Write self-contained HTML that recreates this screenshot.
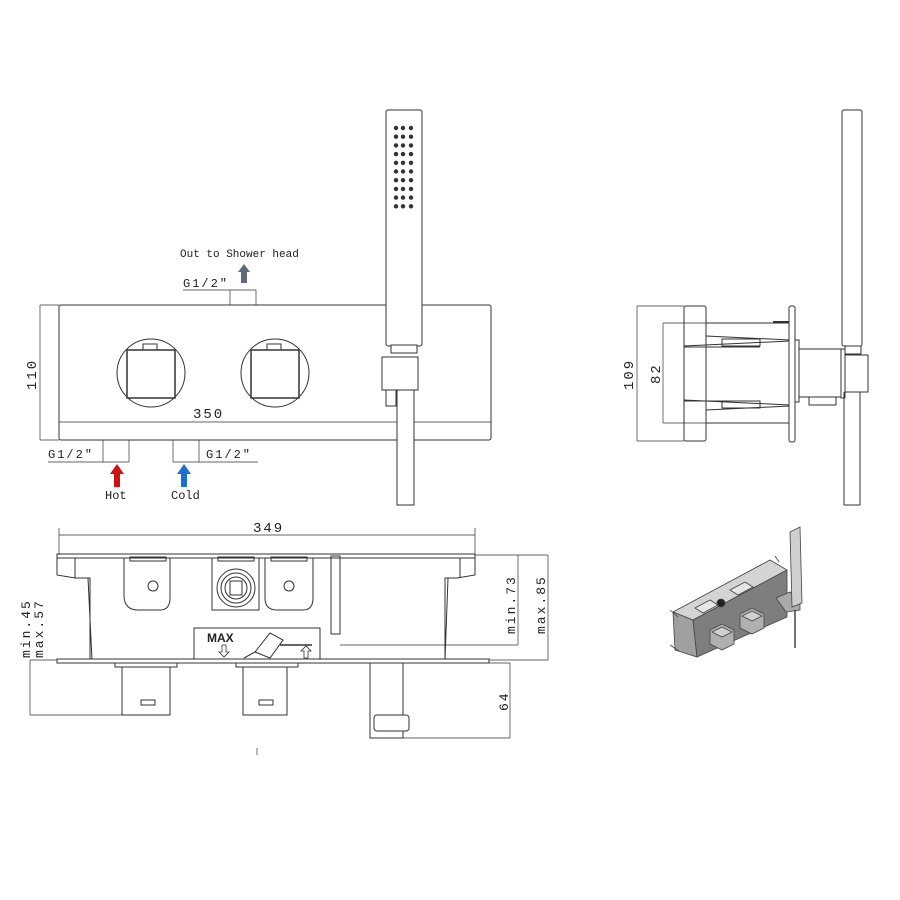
<!DOCTYPE html>
<html><head><meta charset="utf-8"><style>
html,body{margin:0;padding:0;background:#fff;}
svg{display:block;}
text{font-family:"Liberation Mono",monospace;fill:#222;}
</style></head><body>
<svg width="900" height="900" viewBox="0 0 900 900" xmlns="http://www.w3.org/2000/svg">
<g fill="none" stroke="#333" stroke-width="1">
<!-- FRONT VIEW -->
<rect x="59" y="305" width="432" height="135" rx="2"/>
<line x1="40" y1="305" x2="59" y2="305" stroke-width="0.7"/>
<line x1="40" y1="440" x2="59" y2="440" stroke-width="0.7"/>
<line x1="40" y1="305" x2="40" y2="440" stroke-width="0.7"/>
<line x1="59" y1="422" x2="491" y2="422" stroke-width="0.7"/>
<line x1="230" y1="290" x2="230" y2="305" stroke-width="0.7"/>
<line x1="256" y1="290" x2="256" y2="305" stroke-width="0.7"/>
<line x1="183" y1="290" x2="256" y2="290" stroke-width="0.7"/>
<!-- knobs -->
<circle cx="151" cy="373" r="34"/>
<rect x="127" y="350" width="48" height="48" stroke-width="1.5"/>
<rect x="143" y="344" width="14" height="6"/>
<circle cx="275" cy="373" r="34"/>
<rect x="251" y="350" width="48" height="48" stroke-width="1.5"/>
<rect x="267" y="344" width="14" height="6"/>
<!-- inlets -->
<line x1="103" y1="440" x2="103" y2="462" stroke-width="0.7"/>
<line x1="129" y1="440" x2="129" y2="462" stroke-width="0.7"/>
<line x1="48" y1="462" x2="129" y2="462" stroke-width="0.7"/>
<line x1="173" y1="440" x2="173" y2="462" stroke-width="0.7"/>
<line x1="199" y1="440" x2="199" y2="462" stroke-width="0.7"/>
<line x1="173" y1="462" x2="258" y2="462" stroke-width="0.7"/>
<!-- hand shower front -->
<rect x="386" y="110" width="36" height="236" rx="2" fill="#fff"/>
<rect x="391" y="345" width="26" height="8" fill="#fff"/>
<rect x="382" y="357" width="36" height="33" fill="#fff"/>
<rect x="386" y="390" width="10" height="16"/>
<rect x="397" y="390" width="17" height="115" fill="#fff"/>

<!-- SIDE VIEW -->
<line x1="637" y1="306" x2="684" y2="306" stroke-width="0.7"/>
<line x1="637" y1="441" x2="684" y2="441" stroke-width="0.7"/>
<line x1="637" y1="306" x2="637" y2="441" stroke-width="0.7"/>
<line x1="663" y1="323" x2="706" y2="323" stroke-width="0.7"/>
<line x1="663" y1="423" x2="706" y2="423" stroke-width="0.7"/>
<line x1="663" y1="323" x2="663" y2="423" stroke-width="0.7"/>
<rect x="684" y="306" width="22" height="135" rx="2"/>
<line x1="706" y1="323" x2="790" y2="323"/>
<line x1="706" y1="336" x2="790" y2="340"/>
<line x1="684" y1="346" x2="790" y2="341"/>
<line x1="684" y1="347" x2="760" y2="347"/>
<rect x="722" y="339" width="38" height="7"/>
<line x1="706" y1="423" x2="790" y2="423"/>
<line x1="706" y1="410" x2="790" y2="406"/>
<line x1="684" y1="400" x2="790" y2="405"/>
<line x1="684" y1="401" x2="760" y2="401"/>
<rect x="722" y="401" width="38" height="7"/>
<line x1="773" y1="322" x2="790" y2="322" stroke-width="2"/>
<rect x="789" y="306" width="6" height="136" rx="2" fill="#fff"/>
<rect x="795" y="340" width="4" height="62"/>
<rect x="799" y="349" width="42" height="48"/>
<rect x="809" y="397" width="27" height="8"/>
<rect x="841" y="349" width="4" height="49"/>
<rect x="842" y="110" width="20" height="236" rx="2" fill="#fff"/>
<rect x="845" y="346" width="16" height="8"/>
<rect x="845" y="355" width="23" height="37" fill="#fff"/>
<line x1="844" y1="392" x2="844" y2="505"/>
<line x1="860" y1="392" x2="860" y2="505"/>
<line x1="844" y1="505" x2="860" y2="505"/>

<!-- BOTTOM (TOP) VIEW -->
<line x1="59" y1="528" x2="59" y2="555" stroke-width="0.7"/>
<line x1="475" y1="528" x2="475" y2="555" stroke-width="0.7"/>
<line x1="59" y1="535" x2="475" y2="535" stroke-width="0.7"/>
<rect x="57" y="554" width="418" height="4"/>
<path d="M57 556 V575 L75 578 H90 V660"/>
<path d="M75 558 V578"/>
<line x1="88" y1="578" x2="92" y2="660"/>
<path d="M475 556 V575 L457 578 H445 V660"/>
<path d="M460 558 V578"/>
<line x1="448" y1="578" x2="445" y2="660"/>
<path d="M124 558 V595 Q124 610 138 610 H160 Q170 610 170 598 V558"/>
<rect x="130" y="557" width="36" height="4"/>
<circle cx="153" cy="586" r="5"/>
<path d="M212 558 V610 H259 V558"/>
<rect x="218" y="557" width="36" height="4"/>
<circle cx="236" cy="588" r="19"/>
<circle cx="236" cy="588" r="15"/>
<circle cx="236" cy="588" r="11"/>
<rect x="230" y="581" width="12" height="14"/>
<path d="M265 558 V598 Q265 610 277 610 H303 Q313 610 313 598 V558"/>
<rect x="271" y="557" width="36" height="4"/>
<circle cx="289" cy="586" r="5"/>
<rect x="331" y="556" width="9" height="78"/>
<rect x="194" y="628" width="126" height="32"/>
<line x1="280" y1="645" x2="312" y2="645" stroke-width="1.5"/>
<path d="M255 652 L270 633 L283 640 L270 658 Z"/>
<path d="M244 658 L255 652"/>
<rect x="57" y="659" width="432" height="4" fill="#fff"/>
<line x1="340" y1="645" x2="518" y2="645" stroke-width="0.7"/>
<line x1="475" y1="555" x2="548" y2="555" stroke-width="0.7"/>
<line x1="518" y1="555" x2="518" y2="645" stroke-width="0.7"/>
<line x1="548" y1="555" x2="548" y2="660" stroke-width="0.7"/>
<line x1="489" y1="660" x2="548" y2="660" stroke-width="0.7"/>
<line x1="30" y1="660" x2="57" y2="660" stroke-width="0.7"/>
<line x1="30" y1="660" x2="30" y2="715" stroke-width="0.7"/>
<line x1="30" y1="715" x2="122" y2="715" stroke-width="0.7"/>
<rect x="115" y="663" width="62" height="4"/>
<rect x="122" y="667" width="48" height="48"/>
<rect x="141" y="700" width="14" height="5"/>
<rect x="236" y="663" width="62" height="4"/>
<rect x="243" y="667" width="44" height="48"/>
<rect x="259" y="700" width="14" height="5"/>
<rect x="370" y="663" width="33" height="75"/>
<rect x="374" y="715" width="35" height="16" rx="3" fill="#fff"/>
<line x1="403" y1="663" x2="510" y2="663" stroke-width="0.7"/>
<line x1="403" y1="738" x2="510" y2="738" stroke-width="0.7"/>
<line x1="510" y1="663" x2="510" y2="738" stroke-width="0.7"/>
<line x1="257" y1="748" x2="257" y2="755" stroke-width="0.7"/>
</g>
<!-- shower dots -->
<g fill="#333">
<g id="row"><circle cx="396" cy="128" r="2.2"/><circle cx="403" cy="128" r="2.2"/><circle cx="411" cy="128" r="2.2"/></g>
<use href="#row" y="8.7"/><use href="#row" y="17.4"/><use href="#row" y="26.1"/><use href="#row" y="34.8"/><use href="#row" y="43.5"/><use href="#row" y="52.2"/><use href="#row" y="60.9"/><use href="#row" y="69.6"/><use href="#row" y="78.3"/>
</g>
<!-- arrows -->
<path d="M241 283 V272 H238 L244 264 L250 272 H247 V283 Z" fill="#5f6b7a"/>
<path d="M114 487 V474 H110 L117 464 L124 474 H120 V487 Z" fill="#d01010"/>
<path d="M181 487 V474 H177 L184 464 L191 474 H187 V487 Z" fill="#1a6fd0"/>
<!-- texts -->
<text x="180" y="257" font-size="11">Out to Shower head</text>
<text x="183" y="287" font-size="12" letter-spacing="2">G1/2"</text>
<text x="193" y="418" font-size="14" letter-spacing="2">350</text>
<text x="0" y="0" font-size="14" letter-spacing="2" transform="translate(36,390) rotate(-90)">110</text>
<text x="48" y="458" font-size="12" letter-spacing="2">G1/2"</text>
<text x="206" y="458" font-size="12" letter-spacing="2">G1/2"</text>
<text x="105" y="499" font-size="12">Hot</text>
<text x="171" y="499" font-size="12">Cold</text>
<text x="0" y="0" font-size="14" letter-spacing="2" transform="translate(633,390) rotate(-90)">109</text>
<text x="0" y="0" font-size="14" letter-spacing="2" transform="translate(660,384) rotate(-90)">82</text>
<text x="253" y="532" font-size="14" letter-spacing="2">349</text>
<text x="0" y="0" font-size="13" letter-spacing="2" transform="translate(30,658) rotate(-90)">min.45</text>
<text x="0" y="0" font-size="13" letter-spacing="2" transform="translate(43,658) rotate(-90)">max.57</text>
<text x="0" y="0" font-size="13" letter-spacing="2" transform="translate(515,634) rotate(-90)">min.73</text>
<text x="0" y="0" font-size="13" letter-spacing="2" transform="translate(545,634) rotate(-90)">max.85</text>
<text x="0" y="0" font-size="13" letter-spacing="2" transform="translate(508,711) rotate(-90)">64</text>
<text x="207" y="642" font-size="12" font-weight="bold" style="font-family:'Liberation Sans',sans-serif" fill="#333">MAX</text>
<path d="M222 645 v7 h-3 l5 5 l5 -5 h-3 v-7 z" fill="none" stroke="#333" stroke-width="0.8"/>
<path d="M304 658 v-7 h-3 l5 -5 l5 5 h-3 v7 z" fill="none" stroke="#333" stroke-width="0.8"/>
<!-- ISOMETRIC -->
<g stroke="#444" stroke-width="0.8">
<polygon points="673,612 770,560 787,570 693,620" fill="#d4d4d4"/>
<polygon points="673,612 693,620 697,657 675,650" fill="#a0a0a0"/>
<polygon points="693,620 787,570 787,617 697,657" fill="#7e7e7e"/>
<polygon points="695,608 710,600 718,605 703,613" fill="#e6e6e6"/>
<polygon points="730,590 745,582 753,587 738,595" fill="#e6e6e6"/>
<circle cx="721" cy="603" r="4" fill="#222"/>
<polygon points="710,630 722,624 734,630 734,644 722,650 710,644" fill="#b0b0b0"/>
<polygon points="712,632 722,627 732,632 722,637" fill="#d0d0d0"/>
<polygon points="740,614 752,608 764,614 764,628 752,634 740,628" fill="#b0b0b0"/>
<polygon points="742,616 752,611 762,616 752,621" fill="#d0d0d0"/>
<polygon points="776,598 790,592 800,598 800,610 786,612" fill="#aaa"/>
<polygon points="790,532 800,527 802,603 792,607" fill="#cfcfcf"/>
<line x1="795" y1="610" x2="795" y2="648" stroke-width="1.5"/>
<line x1="670" y1="610" x2="678" y2="617"/>
<line x1="670" y1="645" x2="679" y2="651"/>
<line x1="775" y1="556" x2="779" y2="562"/>
</g>
</svg>
</body></html>
